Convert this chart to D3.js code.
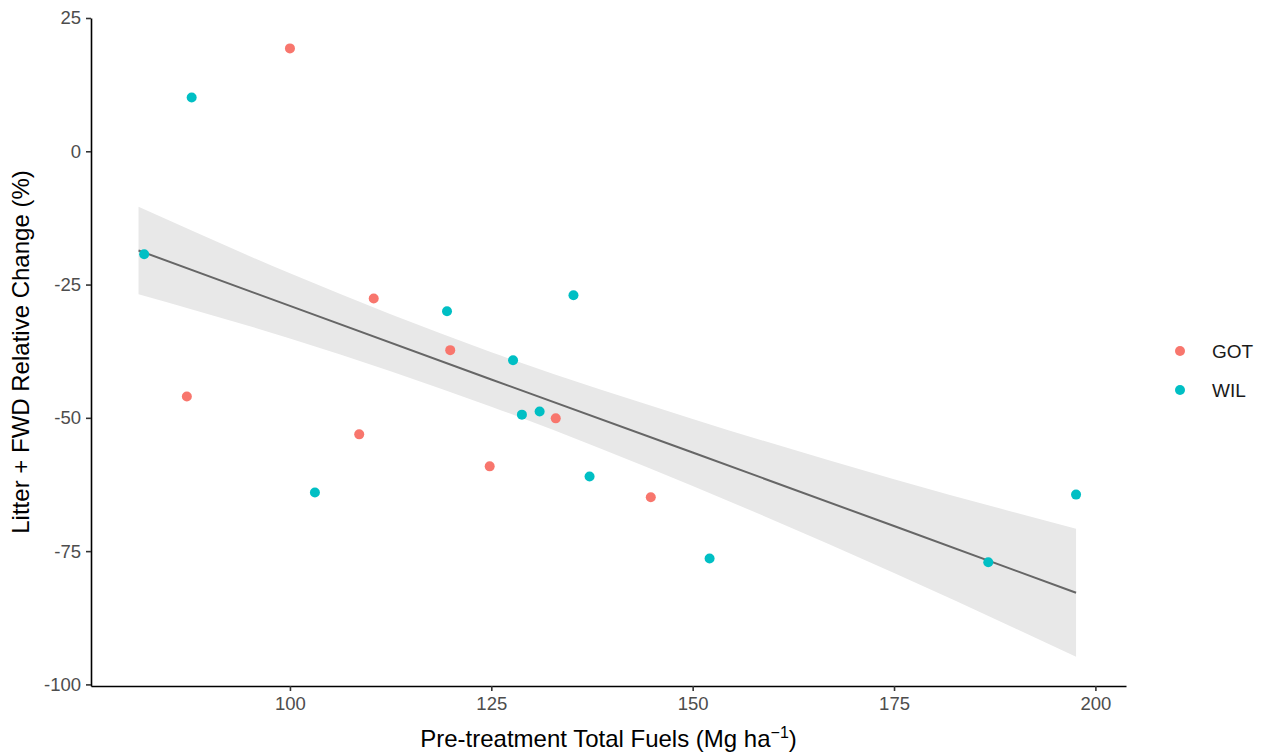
<!DOCTYPE html>
<html lang="en">
<head>
<meta charset="UTF-8">
<title>Litter + FWD relative change</title>
<script src="https://cdn.jsdelivr.net/npm/d3@7/dist/d3.min.js"></script>
<style>
  body { margin: 0; background: #fff; }
  text { font-family: "Liberation Sans", Arial, sans-serif; }
</style>
</head>
<body>
<div id="box"></div>
<script>
// data
const sites = ["GOT", "WIL"];
const gotFuel = [100.0, 87.2, 110.4, 119.9, 108.6, 124.8, 133.0, 144.8];
const gotChange = [19.3, -46.0, -27.6, -37.3, -53.1, -59.1, -50.1, -64.9];
const wilFuel = [87.8, 81.9, 119.5, 135.2, 127.7, 128.8, 131.0, 103.1, 137.2, 152.1, 186.7, 197.6];
const wilChange = [10.1, -19.3, -30.0, -27.0, -39.2, -49.4, -48.8, -64.0, -61.0, -76.4, -77.1, -64.4];
// fitted line and confidence band
const fitFuel = [81.2, 100, 125, 150, 175, 197.6];
const fitChange = [-18.6, -29.0, -42.8, -56.5, -70.3, -82.8];
const fitUpper = [-10.4, -22.9, -37.7, -50.2, -61.5, -70.8];
const fitLower = [-26.8, -35.1, -47.9, -62.8, -79.1, -94.8];
const xTicks = [100, 125, 150, 175, 200];
const yTicks = [25, 0, -25, -50, -75, -100];

const width = 1262, height = 753;
const margin = {top: 18, right: 136, bottom: 67, left: 91};
const innerWidth = width - margin.left - margin.right;
const innerHeight = height - margin.top - margin.bottom;

const colors = d3.scaleOrdinal().domain(sites).range(["#F8766D", "#00BFC4"]);

const svg = d3.select("#box").append("svg")
  .attr("width", width).attr("height", height);

const xScale = d3.scaleLinear().domain([75.3, 203.8]).range([0, innerWidth]);
const yScale = d3.scaleLinear().domain([-100.3, 25.0]).range([innerHeight, 0]);

const g = svg.append("g").attr("transform", `translate(${margin.left},${margin.top})`);

// confidence band
const band = fitFuel.map((f, i) => ({x: f, lo: fitLower[i], hi: fitUpper[i], y: fitChange[i]}));
g.append("path")
  .datum(band)
  .attr("fill", "#e8e8e8")
  .attr("d", d3.area().curve(d3.curveMonotoneX)
    .x(d => xScale(d.x)).y0(d => yScale(d.lo)).y1(d => yScale(d.hi)));

g.append("path")
  .datum(band)
  .attr("fill", "none")
  .attr("stroke", "#666666")
  .attr("stroke-width", 2)
  .attr("d", d3.line().x(d => xScale(d.x)).y(d => yScale(d.y)));

// points
const pts = [];
gotFuel.forEach((f, i) => pts.push({site: "GOT", x: f, y: gotChange[i]}));
wilFuel.forEach((f, i) => pts.push({site: "WIL", x: f, y: wilChange[i]}));
g.selectAll("circle.pt").data(pts).join("circle")
  .attr("class", "pt")
  .attr("cx", d => xScale(d.x))
  .attr("cy", d => yScale(d.y))
  .attr("r", 5)
  .attr("fill", d => colors(d.site));

// axes (plain hyphen for negatives, like the original)
const fmt = d => String(d);
const xAxis = d3.axisBottom(xScale).tickValues(xTicks).tickFormat(fmt)
  .tickSize(5).tickSizeOuter(0).tickPadding(6);
const yAxis = d3.axisLeft(yScale).tickValues(yTicks).tickFormat(fmt)
  .tickSize(5).tickSizeOuter(0).tickPadding(5);

const gx = g.append("g").attr("transform", `translate(0,${innerHeight})`).call(xAxis);
const gy = g.append("g").call(yAxis);
[gx, gy].forEach(a => {
  a.select(".domain").attr("stroke", "#000").attr("stroke-width", 1.6);
  a.selectAll(".tick line").attr("stroke", "#333").attr("stroke-width", 1.6);
  a.selectAll(".tick text").attr("fill", "#4d4d4d").attr("font-size", "18.5px")
    .attr("font-family", "Liberation Sans, Arial, sans-serif");
});

// axis titles
const xt = svg.append("text")
  .attr("x", margin.left + innerWidth / 2).attr("y", 747)
  .attr("text-anchor", "middle").attr("font-size", "24px").attr("fill", "#000");
xt.append("tspan").text("Pre-treatment Total Fuels (Mg ha");
xt.append("tspan").attr("dy", -9).attr("font-size", "16px").text("\u22121");
xt.append("tspan").attr("dy", 9).text(")");

svg.append("text")
  .attr("transform", `translate(29,${margin.top + innerHeight / 2}) rotate(-90)`)
  .attr("text-anchor", "middle").attr("font-size", "24px").attr("fill", "#000")
  .text("Litter + FWD Relative Change (%)");

// legend
const leg = svg.append("g").attr("transform", "translate(1180,351)");
sites.forEach((s, i) => {
  leg.append("circle").attr("cx", 0).attr("cy", i * 39).attr("r", 5).attr("fill", colors(s));
  leg.append("text").attr("x", 32).attr("y", i * 39).attr("dy", "0.35em")
    .attr("font-size", "19px").attr("fill", "#1a1a1a").text(s);
});
</script>
</body>
</html>
